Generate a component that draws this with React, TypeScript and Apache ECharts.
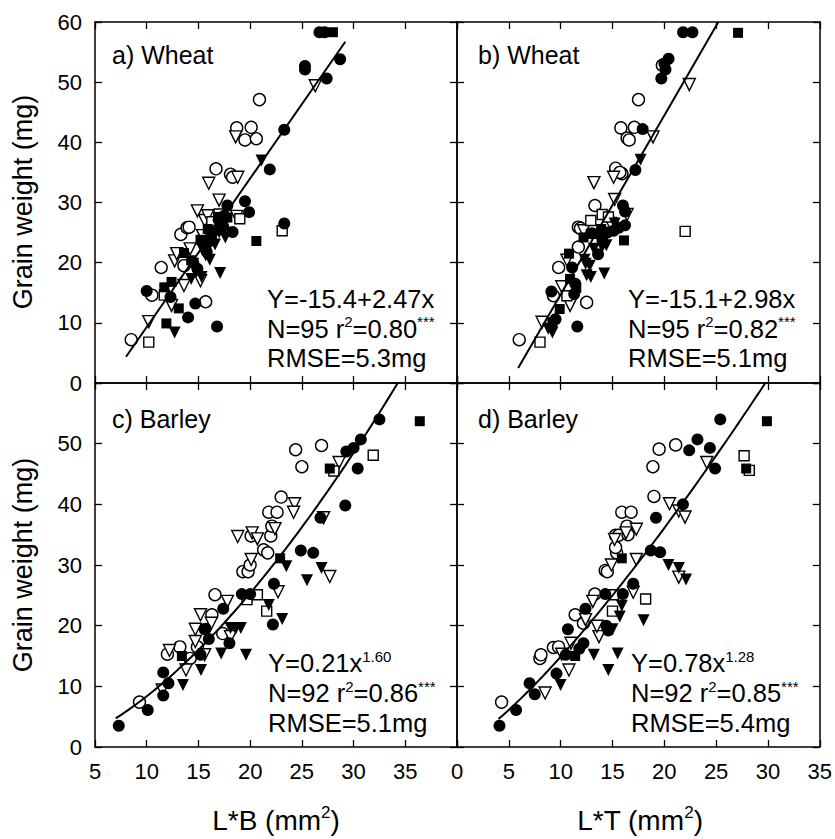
import React, { useEffect, useRef } from "react";
import * as echarts from "echarts";

const FONT = '"Liberation Sans", Arial, Helvetica, sans-serif';

// ---------- axis ticks ----------
const xTicksLB = [5, 10, 15, 20, 25, 30, 35, 40];
const xTicksLT = [0, 5, 10, 15, 20, 25, 30, 35];
const yTicks = [0, 10, 20, 30, 40, 50, 60];

// ---------- panel a) Wheat, L*B ----------
const aFilledCircle = [[10.0,15.3],[12.3,14.3],[14.7,13.2],[14.0,10.9],[16.8,9.4],[14.9,19.0],[17.8,29.5],[19.5,30.2],[19.9,28.4],[18.3,25.1],[17.4,26.0],[16.8,25.5],[15.8,21.8],[21.9,35.5],[23.3,42.1],[23.3,26.5],[25.3,52.7],[25.3,52.1],[27.4,50.6],[28.7,53.8],[26.7,58.3],[27.2,58.3],[17.0,27.0],[16.3,25.0],[14.5,20.0],[16.0,23.5],[17.5,27.8]];
const aOpenCircle = [[8.5,7.2],[10.5,14.6],[11.4,19.2],[13.6,19.5],[15.7,13.5],[13.3,24.7],[13.9,25.8],[14.1,25.9],[16.7,35.6],[18.1,34.7],[18.3,34.2],[18.7,42.4],[20.1,42.5],[19.5,40.4],[20.6,40.6],[20.9,47.1]];
const aFilledTri = [[12.7,8.4],[14.5,19.8],[15.3,17.6],[14.3,17.3],[15.7,21.2],[16.1,20.5],[17.1,18.3],[17.6,24.2],[17.0,25.0],[16.6,23.0],[15.3,22.5],[21.1,37.0],[16.2,24.0],[15.8,22.0],[14.8,18.5],[16.9,26.2]];
const aOpenTri = [[10.2,10.2],[12.4,12.9],[13.6,16.2],[12.7,20.3],[12.9,21.5],[14.2,22.3],[15.4,24.5],[14.9,28.6],[15.6,27.0],[16.0,33.2],[17.0,30.4],[18.6,40.9],[18.8,34.2],[18.7,27.7],[26.3,49.4],[15.2,17.0],[15.9,27.8]];
const aFilledSquare = [[11.9,9.9],[13.1,12.4],[11.7,15.9],[12.4,16.8],[13.6,21.6],[16.3,24.0],[15.2,23.8],[17.8,27.5],[16.9,27.6],[20.6,23.6],[28.0,58.3],[14.3,20.4],[17.3,26.3],[15.9,25.6]];
const aOpenSquare = [[10.2,6.8],[11.7,14.6],[16.3,26.8],[17.0,28.1],[19.0,27.3],[23.1,25.3]];

// ---------- panel b) Wheat, L*T ----------
const bFilledCircle = [[9.1,15.2],[11.3,14.8],[11.4,16.5],[11.1,19.2],[9.5,10.6],[11.6,9.4],[16.0,29.5],[16.2,28.5],[16.2,26.2],[15.1,25.3],[17.2,35.4],[17.9,42.2],[20.4,53.9],[20.0,53.1],[20.1,52.1],[19.7,50.6],[21.8,58.3],[22.7,58.3],[13.0,24.9],[14.5,25.0],[15.6,25.8],[14.0,24.0],[13.6,21.4]];
const bOpenCircle = [[6.0,7.2],[9.3,14.5],[12.5,13.4],[9.8,19.2],[11.7,22.6],[11.7,25.9],[11.9,25.7],[13.3,29.5],[15.3,35.7],[15.9,34.8],[15.7,35.0],[15.8,42.4],[17.1,42.5],[16.4,40.7],[16.6,40.4],[17.5,47.1],[19.8,52.8]];
const bFilledTri = [[8.8,9.0],[9.2,8.4],[12.9,17.6],[12.5,17.9],[14.2,18.2],[12.4,19.8],[12.8,19.5],[14.0,22.6],[13.2,22.3],[14.0,23.7],[14.4,22.9],[17.7,37.1],[12.3,20.5],[15.2,26.5]];
const bOpenTri = [[8.2,10.1],[10.9,12.9],[10.1,16.0],[10.6,20.4],[12.2,25.3],[13.2,33.3],[15.1,34.2],[15.2,30.5],[16.4,28.0],[18.9,40.9],[22.4,49.6],[13.5,22.0],[14.8,26.5]];
const bFilledSquare = [[9.2,10.1],[9.9,12.3],[10.9,17.3],[10.8,21.5],[12.9,24.8],[13.5,24.8],[16.1,23.7],[27.1,58.2],[11.5,15.8],[13.9,25.6],[12.2,24.2]];
const bOpenSquare = [[8.0,6.8],[10.6,14.5],[12.9,27.0],[14.0,28.0],[14.6,27.6],[22.0,25.2]];

// ---------- panel c) Barley, L*B ----------
const cFilledCircle = [[7.3,3.5],[10.1,6.1],[11.6,8.5],[12.1,10.5],[11.6,12.3],[15.2,15.2],[16.0,17.8],[18.0,17.1],[15.6,19.4],[17.4,22.8],[19.2,25.2],[20.0,25.2],[22.3,26.9],[22.2,20.2],[24.9,32.4],[26.1,32.0],[26.8,37.8],[29.3,48.7],[30.0,49.3],[30.7,50.7],[30.4,45.9],[29.2,39.8],[32.5,54.0],[15.7,19.5]];
const cOpenCircle = [[9.3,7.4],[12.0,15.3],[13.2,16.5],[14.2,14.6],[14.9,16.5],[17.35,18.7],[16.3,21.8],[16.6,25.1],[19.3,28.9],[19.8,28.9],[20.0,30.0],[21.3,32.5],[21.7,32.0],[20.1,34.8],[22.0,34.8],[22.1,36.4],[21.8,38.7],[22.6,38.7],[23.0,41.2],[24.4,49.0],[25.0,46.2],[26.9,49.7]];
const cFilledTri = [[13.5,10.2],[15.25,12.7],[17.2,15.4],[19.6,15.2],[18.1,19.6],[19.1,19.6],[18.6,19.5],[21.8,23.4],[23.1,21.1],[23.5,29.8],[25.5,27.5],[26.9,29.5]];
const cOpenTri = [[11.5,9.4],[13.8,12.7],[12.2,15.9],[15.6,15.2],[14.7,17.4],[18.1,18.2],[14.7,19.4],[15.2,21.8],[16.25,20.4],[17.8,24.0],[20.1,30.9],[18.8,34.7],[20.2,35.3],[20.7,34.3],[22.4,36.0],[24.3,40.1],[24.2,38.7],[27.1,37.8],[28.6,46.9],[22.7,25.6],[27.7,28.1],[20.0,24.5]];
const cFilledSquare = [[13.4,15.0],[22.9,31.1],[27.7,45.9],[36.4,53.7]];
const cOpenSquare = [[19.7,24.3],[20.7,25.1],[21.6,22.4],[28.1,45.5],[31.9,48.1]];

// ---------- panel d) Barley, L*T ----------
const dFilledCircle = [[4.1,3.5],[5.7,6.1],[7.5,8.7],[7.0,10.5],[9.6,12.1],[10.5,15.2],[12.2,17.1],[10.7,19.4],[12.4,22.8],[14.4,20.0],[14.6,19.2],[14.3,25.2],[16.0,25.2],[17.0,26.9],[18.7,32.4],[19.6,32.1],[19.2,37.8],[21.8,40.0],[22.4,48.9],[23.2,50.7],[24.4,49.3],[24.9,45.9],[25.4,54.0],[11.8,16.2]];
const dOpenCircle = [[4.3,7.4],[8.0,14.6],[8.1,15.2],[9.3,16.4],[9.8,16.5],[11.4,21.8],[12.2,20.4],[13.3,25.2],[14.3,29.1],[14.5,28.9],[15.4,32.0],[15.3,32.9],[15.3,34.9],[15.6,34.9],[16.4,36.4],[16.5,35.0],[15.9,38.7],[16.8,38.7],[19.0,41.3],[18.9,46.2],[19.5,49.1],[21.1,49.8]];
const dFilledTri = [[10.0,10.2],[13.2,15.2],[14.6,12.7],[15.5,15.4],[15.0,19.4],[15.9,23.3],[15.7,21.5],[18.0,20.9],[20.4,30.0],[21.4,29.5],[22.1,27.6]];
const dOpenTri = [[8.5,8.9],[10.8,12.7],[10.1,15.3],[11.0,17.1],[13.7,18.2],[13.5,19.9],[13.1,24.0],[12.4,21.0],[17.0,25.5],[14.9,30.0],[16.3,35.3],[17.3,35.9],[17.3,30.9],[21.4,28.0],[20.5,40.1],[21.4,38.9],[22.0,37.9],[24.1,46.9],[15.2,34.2]];
const dFilledSquare = [[11.4,15.0],[15.9,31.1],[27.9,45.9],[29.9,53.7]];
const dOpenSquare = [[15.0,22.4],[15.1,25.1],[18.2,24.4],[27.7,48.0],[28.2,45.6]];

// ---------- fitted equations (as printed) ----------
const aFit = { kind: "linear", a: -15.4, b: 2.47, from: 8.0, to: 29.2 };
const bFit = { kind: "linear", a: -15.1, b: 2.98, from: 5.9, to: 25.2 };
const cFit = { kind: "power", a: 0.21, b: 1.6, from: 7.0, to: 34.3 };
const dFit = { kind: "power", a: 0.78, b: 1.28, from: 4.0, to: 29.8 };

const panelLabels = ["a) Wheat", "b) Wheat", "c) Barley", "d) Barley"];
const eqLines = [
  ["Y=-15.4+2.47x", "N=95 r{sup|2}=0.80{sup|***}", "RMSE=5.3mg"],
  ["Y=-15.1+2.98x", "N=95 r{sup|2}=0.82{sup|***}", "RMSE=5.1mg"],
  ["Y=0.21x{sup|1.60}", "N=92 r{sup|2}=0.86{sup|***}", "RMSE=5.1mg"],
  ["Y=0.78x{sup|1.28}", "N=92 r{sup|2}=0.85{sup|***}", "RMSE=5.4mg"],
];
const xTitles = ["L*B (mm{sup|2})", "L*T (mm{sup|2})"];
const yTitle = "Grain weight (mg)";

function fitCurve(f: any): number[][] {
  if (f.kind === "linear") {
    return [[f.from, f.a + f.b * f.from], [f.to, f.a + f.b * f.to]];
  }
  const pts: number[][] = [];
  const n = 60;
  for (let i = 0; i <= n; i++) {
    const x = f.from + ((f.to - f.from) * i) / n;
    pts.push([x, f.a * Math.pow(x, f.b)]);
  }
  return pts;
}

const panels = [
  { fc: aFilledCircle, oc: aOpenCircle, ft: aFilledTri, ot: aOpenTri, fs: aFilledSquare, os: aOpenSquare, fit: aFit },
  { fc: bFilledCircle, oc: bOpenCircle, ft: bFilledTri, ot: bOpenTri, fs: bFilledSquare, os: bOpenSquare, fit: bFit },
  { fc: cFilledCircle, oc: cOpenCircle, ft: cFilledTri, ot: cOpenTri, fs: cFilledSquare, os: cOpenSquare, fit: cFit },
  { fc: dFilledCircle, oc: dOpenCircle, ft: dFilledTri, ot: dOpenTri, fs: dFilledSquare, os: dOpenSquare, fit: dFit },
];

export default function App() {
  const ref = useRef<HTMLDivElement>(null);
  useEffect(() => {
    if (!ref.current) return;
    const chart = echarts.init(ref.current, null, { renderer: "svg" });

    const grids = [
      { left: 95, top: 22, width: 362, height: 361 },
      { left: 457, top: 22, width: 363, height: 361 },
      { left: 95, top: 383, width: 362, height: 364 },
      { left: 457, top: 383, width: 363, height: 364 },
    ];

    const tickStyle = { inside: true, length: 7, lineStyle: { color: "#000", width: 1.3 } };
    const lineStyle = { show: true, onZero: false, lineStyle: { color: "#000", width: 1.5 } };
    const labelBase = { color: "#000", fontSize: 22, fontFamily: FONT };

    const xAxes: any[] = [];
    const yAxes: any[] = [];
    for (let i = 0; i < 4; i++) {
      const ticks = i % 2 === 0 ? xTicksLB : xTicksLT;
      const xmin = ticks[0];
      const xmax = ticks[ticks.length - 1];
      const showX = i >= 2;
      for (const pos of ["bottom", "top"]) {
        xAxes.push({
          gridIndex: i, type: "value", position: pos, min: xmin, max: xmax, interval: 5,
          axisLine: lineStyle, axisTick: tickStyle, splitLine: { show: false },
          axisLabel: {
            ...labelBase,
            show: showX && pos === "bottom",
            margin: 13,
            showMinLabel: true, showMaxLabel: true,
            formatter: (v: number) => (i === 2 && v === 40 ? "" : String(v)),
          },
        });
      }
      const showY = i % 2 === 0;
      for (const pos of ["left", "right"]) {
        yAxes.push({
          gridIndex: i, type: "value", position: pos, min: yTicks[0], max: yTicks[yTicks.length - 1], interval: 10,
          axisLine: lineStyle, axisTick: tickStyle, splitLine: { show: false },
          axisLabel: {
            ...labelBase,
            show: showY && pos === "left",
            margin: 13,
            showMinLabel: true, showMaxLabel: true,
            formatter: (v: number) => (i === 2 && v === 60 ? "" : String(v)),
          },
        });
      }
    }

    const filled = { color: "#000", opacity: 1 };
    const open = { color: "#fff", borderColor: "#000", borderWidth: 1.4, opacity: 1 };
    const series: any[] = [];
    panels.forEach((p, i) => {
      const base = { type: "scatter", xAxisIndex: i * 2, yAxisIndex: i * 2, silent: true };
      series.push({ ...base, data: p.oc, symbol: "circle", symbolSize: 12, itemStyle: open });
      series.push({ ...base, data: p.ot, symbol: "triangle", symbolRotate: 180, symbolSize: 12, itemStyle: open });
      series.push({ ...base, data: p.os, symbol: "rect", symbolSize: 10, itemStyle: open });
      series.push({ ...base, data: p.fc, symbol: "circle", symbolSize: 12, itemStyle: filled });
      series.push({ ...base, data: p.ft, symbol: "triangle", symbolRotate: 180, symbolSize: 12, itemStyle: filled });
      series.push({ ...base, data: p.fs, symbol: "rect", symbolSize: 10, itemStyle: filled });
      series.push({
        type: "line", xAxisIndex: i * 2, yAxisIndex: i * 2, data: fitCurve(p.fit), showSymbol: false,
        symbol: "none", smooth: false, lineStyle: { color: "#000", width: 2 }, z: 5, silent: true,
      });
    });

    const txt = (text: string, x: number, y: number, size: number, extra: any = {}) => {
      const supSize = Math.round(size * 0.6);
      return {
        type: "text", x, y, silent: true, ...extra,
        style: {
          text, fill: "#000", fontSize: size, fontFamily: FONT,
          align: extra.align || "left", verticalAlign: "middle",
          textAlign: extra.align || "left", textVerticalAlign: "middle",
          lineHeight: Math.round(size * 1.15),
          rich: {
            sup: {
              fontSize: supSize, fontFamily: FONT, verticalAlign: "top",
              lineHeight: supSize, fill: "#000", color: "#000",
            },
          },
        },
      };
    };

    const labelPos = [[112, 55], [478, 55], [112, 419], [478, 419]];
    const eqPos = [[267, 299, 29.5], [628, 299, 29.5], [268, 663, 30], [631, 663, 30]];
    const graphics: any[] = [];
    panelLabels.forEach((t, i) => graphics.push(txt(t, labelPos[i][0], labelPos[i][1], 25)));
    eqLines.forEach((lines, i) => {
      lines.forEach((t, j) => graphics.push(txt(t, eqPos[i][0], eqPos[i][1] + j * eqPos[i][2], 25.5)));
    });
    graphics.push(txt(xTitles[0], 276, 820, 28, { align: "center" }));
    graphics.push(txt(xTitles[1], 640, 820, 28, { align: "center" }));
    graphics.push(txt(yTitle, 23, 202, 27, { align: "center", rotation: Math.PI / 2 }));
    graphics.push(txt(yTitle, 23, 565, 27, { align: "center", rotation: Math.PI / 2 }));

    chart.setOption({
      animation: false,
      backgroundColor: "#fff",
      grid: grids.map((g) => ({ ...g, containLabel: false })),
      xAxis: xAxes,
      yAxis: yAxes,
      series,
      graphic: graphics,
    });
    return () => chart.dispose();
  }, []);

  return (
    <div style={{ position: "fixed", left: 0, top: 0, width: 835, height: 839, background: "#fff" }}>
      <div ref={ref} style={{ width: 835, height: 839 }} />
    </div>
  );
}
